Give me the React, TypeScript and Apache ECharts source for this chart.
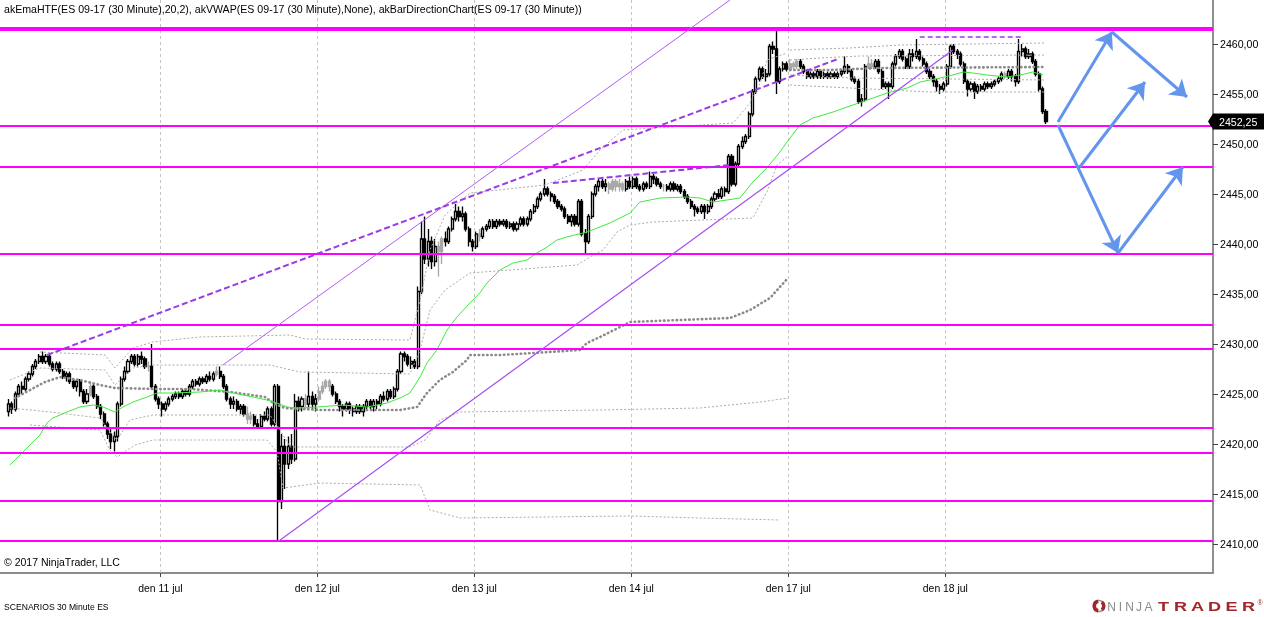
import React, { useEffect, useRef } from 'react';
import * as echarts from 'echarts';

const FONT = '"Liberation Sans", Arial, Helvetica, sans-serif';

const TITLE = 'akEmaHTF(ES 09-17 (30 Minute),20,2), akVWAP(ES 09-17 (30 Minute),None), akBarDirectionChart(ES 09-17 (30 Minute))';
const COPYRIGHT = '© 2017 NinjaTrader, LLC';
const FOOTER = 'SCENARIOS 30 Minute ES';

const DAY_BOUNDS = [44.5, 90.5, 136.5, 182.5, 228.5, 274.5];
const DAY_LABELS = ['den 11 jul', 'den 12 jul', 'den 13 jul', 'den 14 jul', 'den 17 jul', 'den 18 jul'];
const Y_TICKS = [2410, 2415, 2420, 2425, 2430, 2435, 2440, 2445, 2450, 2455, 2460];
const LEVELS = [2461.5, 2451.8, 2447.7, 2439.0, 2431.9, 2429.5, 2421.6, 2419.1, 2414.3, 2410.3];
const LAST_PRICE = 2452.25;
const X_MIN = -2.49;
const X_MAX = 352.92;
const Y_MIN = 2407.1;
const Y_MAX = 2464.4;

// [open, close, low, high]
const BARS_JUL10 = [
  [2423.25, 2424.0, 2422.75, 2424.5], [2424.0, 2423.5, 2423.0, 2424.25], [2423.5, 2425.0, 2423.25, 2425.25],
  [2425.0, 2425.75, 2424.75, 2426.0], [2425.75, 2425.5, 2425.0, 2426.25], [2425.5, 2426.5, 2425.25, 2426.75],
  [2426.5, 2427.0, 2426.25, 2427.25], [2427.0, 2427.75, 2426.75, 2428.0], [2427.75, 2428.25, 2427.5, 2428.5],
  [2428.25, 2428.75, 2428.0, 2429.0], [2428.75, 2428.25, 2428.0, 2429.25], [2428.25, 2428.75, 2428.0, 2429.0],
  [2428.75, 2428.0, 2427.75, 2429.0], [2428.0, 2427.5, 2427.25, 2428.25], [2427.5, 2428.0, 2427.25, 2428.25],
  [2428.0, 2427.25, 2427.0, 2428.25], [2427.25, 2426.75, 2426.5, 2427.5], [2426.75, 2427.0, 2426.25, 2427.25],
  [2427.0, 2426.25, 2426.0, 2427.25], [2426.25, 2425.75, 2425.5, 2426.5], [2425.75, 2426.25, 2425.25, 2426.5],
  [2426.25, 2425.25, 2424.75, 2426.5], [2425.25, 2424.25, 2424.0, 2425.5], [2424.25, 2425.0, 2424.0, 2425.5],
  [2425.0, 2425.75, 2424.75, 2426.25], [2425.75, 2424.75, 2424.5, 2426.0], [2424.75, 2423.75, 2423.5, 2425.0],
  [2423.75, 2423.0, 2422.5, 2424.0], [2423.0, 2422.0, 2421.75, 2423.25], [2422.0, 2421.0, 2420.5, 2422.25],
  [2421.0, 2420.25, 2419.5, 2421.5], [2420.25, 2420.75, 2419.25, 2421.25], [2420.75, 2424.0, 2420.25, 2424.25],
  [2424.0, 2426.5, 2423.75, 2426.75], [2426.5, 2427.25, 2426.25, 2427.75], [2427.25, 2428.25, 2427.0, 2428.5],
  [2428.25, 2428.75, 2428.0, 2429.0], [2428.75, 2428.0, 2427.75, 2429.0], [2428.0, 2428.75, 2427.75, 2429.0],
  [2428.75, 2428.5, 2428.0, 2429.25], [2428.5, 2427.75, 2427.5, 2428.75], [2427.75, 2427.75, 2427.25, 2428.25],
  [2427.75, 2425.75, 2425.5, 2430.0], [2425.75, 2424.5, 2424.25, 2426.0], [2424.5, 2424.0, 2423.5, 2424.75],
];
const BARS_JUL11 = [
  [2424.0, 2423.5, 2422.75, 2424.25], [2423.5, 2424.0, 2423.25, 2424.25], [2424.0, 2424.5, 2423.75, 2424.75],
  [2424.5, 2424.75, 2424.25, 2425.0], [2424.75, 2425.0, 2424.5, 2425.25], [2425.0, 2424.75, 2424.5, 2425.25],
  [2424.75, 2425.25, 2424.5, 2425.5], [2425.25, 2425.0, 2424.75, 2425.5], [2425.0, 2425.75, 2424.75, 2426.0],
  [2425.75, 2426.25, 2425.5, 2426.5], [2426.25, 2426.0, 2425.75, 2426.5], [2426.0, 2426.5, 2425.75, 2426.75],
  [2426.5, 2426.25, 2426.0, 2426.75], [2426.25, 2426.75, 2426.0, 2427.0], [2426.75, 2426.5, 2426.25, 2427.25],
  [2426.5, 2427.0, 2426.25, 2427.25], [2427.0, 2427.25, 2426.75, 2427.75], [2427.25, 2426.75, 2426.5, 2427.75],
  [2426.75, 2425.75, 2425.5, 2427.0], [2425.75, 2424.5, 2424.25, 2426.0], [2424.5, 2424.0, 2423.5, 2424.75],
  [2424.0, 2424.25, 2423.5, 2424.75], [2424.25, 2423.5, 2423.25, 2424.5], [2423.5, 2423.75, 2423.0, 2424.0],
  [2423.75, 2423.0, 2422.75, 2424.0], [2423.0, 2422.5, 2422.0, 2423.75], [2422.5, 2422.75, 2422.0, 2423.25],
  [2422.75, 2422.0, 2421.75, 2423.0], [2422.0, 2421.75, 2421.5, 2422.5], [2421.75, 2422.75, 2421.5, 2423.0],
  [2422.75, 2422.5, 2422.25, 2423.25], [2422.5, 2423.5, 2422.25, 2423.75], [2423.5, 2422.0, 2421.75, 2423.75],
  [2422.0, 2425.75, 2421.75, 2426.0], [2425.75, 2414.25, 2410.25, 2426.0], [2414.25, 2419.75, 2413.5, 2421.0],
  [2419.75, 2418.0, 2415.5, 2420.5], [2418.0, 2419.75, 2417.5, 2420.75], [2419.75, 2418.5, 2418.0, 2421.0],
  [2418.5, 2424.25, 2418.25, 2425.0], [2424.25, 2423.75, 2423.25, 2424.75], [2423.75, 2424.5, 2423.25, 2424.75],
  [2424.5, 2424.0, 2423.5, 2425.0], [2424.0, 2424.75, 2423.5, 2427.25], [2424.75, 2424.0, 2423.5, 2425.25],
  [2424.0, 2424.5, 2423.25, 2425.0],
];
const BARS_JUL12 = [
  [2424.5, 2425.25, 2424.25, 2425.75], [2425.25, 2425.75, 2425.0, 2426.25], [2425.75, 2426.25, 2425.5, 2426.5],
  [2426.25, 2425.75, 2425.25, 2426.5], [2425.75, 2425.0, 2424.75, 2426.0], [2425.0, 2424.25, 2424.0, 2425.25],
  [2424.25, 2423.75, 2423.25, 2424.5], [2423.75, 2423.5, 2422.75, 2424.0], [2423.5, 2424.0, 2423.25, 2424.25],
  [2424.0, 2423.5, 2423.0, 2424.25], [2423.5, 2423.25, 2422.75, 2423.75], [2423.25, 2423.75, 2423.0, 2424.0],
  [2423.75, 2423.25, 2423.0, 2424.0], [2423.25, 2423.75, 2422.75, 2424.0], [2423.75, 2424.25, 2423.5, 2424.5],
  [2424.25, 2423.75, 2423.5, 2424.5], [2423.75, 2424.25, 2423.25, 2424.5], [2424.25, 2424.0, 2423.5, 2424.5],
  [2424.0, 2424.75, 2423.75, 2425.0], [2424.75, 2424.5, 2424.25, 2425.25], [2424.5, 2425.25, 2424.25, 2425.5],
  [2425.25, 2424.75, 2424.5, 2425.5], [2424.75, 2425.5, 2424.5, 2425.75], [2425.5, 2427.25, 2425.25, 2427.5],
  [2427.25, 2429.0, 2427.0, 2429.25], [2429.0, 2428.75, 2428.25, 2429.25], [2428.75, 2428.0, 2427.75, 2429.0],
  [2428.0, 2428.25, 2427.5, 2428.75], [2428.25, 2427.75, 2427.5, 2428.5], [2427.75, 2435.25, 2427.5, 2435.75],
  [2435.25, 2440.5, 2435.0, 2442.25], [2440.5, 2438.5, 2438.0, 2442.75], [2438.5, 2440.25, 2437.75, 2441.5],
  [2440.25, 2438.25, 2437.5, 2440.75], [2438.25, 2439.75, 2437.75, 2440.5], [2439.75, 2439.25, 2436.75, 2440.25],
  [2439.25, 2440.5, 2438.0, 2440.75], [2440.5, 2440.25, 2439.75, 2441.25], [2440.25, 2441.5, 2440.0, 2441.75],
  [2441.5, 2442.5, 2441.25, 2442.75], [2442.5, 2443.25, 2442.25, 2444.0], [2443.25, 2442.75, 2442.25, 2443.75],
  [2442.75, 2443.0, 2442.25, 2443.75], [2443.0, 2441.5, 2441.25, 2443.25], [2441.5, 2440.25, 2439.75, 2441.75],
  [2440.25, 2439.75, 2439.25, 2440.5],
];
const BARS_JUL13 = [
  [2439.75, 2441.0, 2439.5, 2441.25], [2441.0, 2440.75, 2440.25, 2441.5], [2440.75, 2441.5, 2440.5, 2441.75],
  [2441.5, 2441.75, 2441.25, 2442.0], [2441.75, 2442.25, 2441.5, 2442.5], [2442.25, 2441.75, 2441.5, 2442.5],
  [2441.75, 2442.25, 2441.5, 2442.5], [2442.25, 2442.0, 2441.75, 2442.5], [2442.0, 2442.25, 2441.75, 2442.5],
  [2442.25, 2441.75, 2441.5, 2442.5], [2441.75, 2442.0, 2441.5, 2442.25], [2442.0, 2441.5, 2441.25, 2442.25],
  [2441.5, 2442.0, 2441.25, 2442.25], [2442.0, 2442.5, 2441.75, 2442.75], [2442.5, 2442.0, 2441.75, 2442.75],
  [2442.0, 2442.5, 2441.75, 2442.75], [2442.5, 2443.25, 2442.25, 2443.5], [2443.25, 2443.75, 2443.0, 2444.0],
  [2443.75, 2444.5, 2443.5, 2444.75], [2444.5, 2445.0, 2444.25, 2445.25], [2445.0, 2445.5, 2444.75, 2446.5],
  [2445.5, 2445.0, 2444.75, 2445.75], [2445.0, 2444.75, 2444.25, 2445.25], [2444.75, 2444.25, 2444.0, 2445.0],
  [2444.25, 2443.75, 2443.5, 2444.5], [2443.75, 2443.5, 2443.25, 2444.0], [2443.5, 2442.75, 2442.5, 2443.75],
  [2442.75, 2442.25, 2442.0, 2443.0], [2442.25, 2442.75, 2441.75, 2443.0], [2442.75, 2442.0, 2441.75, 2443.0],
  [2442.0, 2444.25, 2441.75, 2444.5], [2444.25, 2441.0, 2440.75, 2444.5], [2441.0, 2440.25, 2439.0, 2441.5],
  [2440.25, 2442.75, 2440.0, 2443.0], [2442.75, 2445.0, 2442.5, 2445.25], [2445.0, 2445.75, 2444.75, 2446.0],
  [2445.75, 2446.25, 2445.25, 2446.5], [2446.25, 2445.75, 2445.5, 2446.5], [2445.75, 2446.0, 2445.25, 2446.5],
  [2446.0, 2445.5, 2445.0, 2446.25], [2445.5, 2446.25, 2445.25, 2446.5], [2446.25, 2445.75, 2445.25, 2446.5],
  [2445.75, 2446.0, 2445.25, 2446.5], [2446.0, 2445.5, 2445.25, 2446.25], [2445.5, 2446.25, 2445.25, 2446.5],
  [2446.25, 2445.75, 2445.5, 2446.75],
];
const BARS_JUL14 = [
  [2445.75, 2446.5, 2445.5, 2446.75], [2446.5, 2445.75, 2445.5, 2446.75], [2445.75, 2445.5, 2445.25, 2446.0],
  [2445.5, 2446.0, 2445.25, 2446.25], [2446.0, 2445.75, 2445.5, 2446.25], [2445.75, 2446.75, 2445.5, 2447.25],
  [2446.75, 2446.5, 2446.0, 2447.0], [2446.5, 2446.0, 2445.75, 2446.75], [2446.0, 2445.75, 2445.5, 2446.25],
  [2445.75, 2445.75, 2445.25, 2446.0], [2445.75, 2445.5, 2445.25, 2446.0], [2445.5, 2446.0, 2445.25, 2446.25],
  [2446.0, 2445.5, 2445.25, 2446.25], [2445.5, 2445.75, 2445.25, 2446.0], [2445.75, 2445.25, 2445.0, 2446.0],
  [2445.25, 2444.75, 2444.5, 2445.5], [2444.75, 2444.25, 2444.0, 2445.0], [2444.25, 2443.75, 2443.5, 2444.5],
  [2443.75, 2443.5, 2442.75, 2444.0], [2443.5, 2443.25, 2443.0, 2443.75], [2443.25, 2443.75, 2443.0, 2444.0],
  [2443.75, 2443.25, 2442.5, 2444.0], [2443.25, 2443.75, 2443.0, 2444.0], [2443.75, 2444.5, 2443.5, 2444.75],
  [2444.5, 2445.0, 2444.25, 2445.25], [2445.0, 2444.75, 2444.5, 2445.5], [2444.75, 2445.5, 2444.5, 2445.75],
  [2445.5, 2445.25, 2444.75, 2445.75], [2445.25, 2448.75, 2445.0, 2449.0], [2448.75, 2446.0, 2445.75, 2449.0],
  [2446.0, 2448.0, 2445.75, 2448.25], [2448.0, 2449.75, 2447.75, 2450.0], [2449.75, 2450.25, 2449.5, 2450.75],
  [2450.25, 2450.75, 2450.0, 2451.0], [2450.75, 2453.0, 2450.5, 2453.25], [2453.0, 2455.25, 2452.75, 2455.5],
  [2455.25, 2456.5, 2455.0, 2456.75], [2456.5, 2457.5, 2456.25, 2457.75], [2457.5, 2456.75, 2456.5, 2457.75],
  [2456.75, 2457.0, 2456.25, 2457.5], [2457.0, 2459.75, 2456.75, 2460.0], [2459.75, 2459.5, 2459.0, 2460.25],
  [2459.5, 2456.25, 2455.0, 2461.5], [2456.25, 2457.5, 2456.0, 2457.75], [2457.5, 2458.0, 2457.25, 2458.25],
  [2458.0, 2457.5, 2457.25, 2458.25],
];
const BARS_JUL17 = [
  [2457.5, 2458.0, 2457.25, 2458.5], [2458.0, 2457.75, 2457.5, 2458.25], [2457.75, 2458.25, 2457.5, 2458.5],
  [2458.25, 2457.75, 2457.5, 2458.5], [2457.75, 2457.25, 2457.0, 2458.0], [2457.25, 2456.75, 2456.5, 2457.5],
  [2456.75, 2457.0, 2456.5, 2457.25], [2457.0, 2456.75, 2456.5, 2457.25], [2456.75, 2457.25, 2456.5, 2457.5],
  [2457.25, 2456.75, 2456.5, 2457.5], [2456.75, 2457.0, 2456.5, 2457.25], [2457.0, 2456.75, 2456.5, 2457.25],
  [2456.75, 2457.0, 2456.5, 2457.25], [2457.0, 2456.75, 2456.5, 2457.25], [2456.75, 2457.0, 2456.5, 2457.25],
  [2457.0, 2457.25, 2456.75, 2457.5], [2457.25, 2457.75, 2457.0, 2458.75], [2457.75, 2457.25, 2457.0, 2458.0],
  [2457.25, 2456.5, 2456.25, 2457.5], [2456.5, 2456.25, 2456.0, 2456.75], [2456.25, 2454.25, 2454.0, 2456.5],
  [2454.25, 2454.5, 2453.75, 2455.0], [2454.5, 2457.75, 2454.25, 2458.0], [2457.75, 2458.0, 2457.5, 2458.75],
  [2458.0, 2457.75, 2457.5, 2458.5], [2457.75, 2458.25, 2457.5, 2458.5], [2458.25, 2457.25, 2457.0, 2458.5],
  [2457.25, 2455.75, 2455.5, 2457.5], [2455.75, 2456.0, 2455.5, 2456.25], [2456.0, 2455.75, 2454.5, 2456.25],
  [2455.75, 2458.0, 2455.5, 2458.25], [2458.0, 2458.75, 2457.75, 2459.0], [2458.75, 2459.25, 2458.5, 2459.5],
  [2459.25, 2458.5, 2458.25, 2459.5], [2458.5, 2457.75, 2457.5, 2458.75], [2457.75, 2459.0, 2457.5, 2459.5],
  [2459.0, 2458.75, 2458.25, 2459.5], [2458.75, 2459.25, 2458.5, 2460.5], [2459.25, 2458.5, 2458.25, 2459.5],
  [2458.5, 2458.0, 2457.75, 2458.75], [2458.0, 2457.25, 2457.0, 2458.25], [2457.25, 2456.75, 2456.5, 2457.5],
  [2456.75, 2456.25, 2455.75, 2457.0], [2456.25, 2455.75, 2455.25, 2456.5], [2455.75, 2455.5, 2455.0, 2456.0],
  [2455.5, 2456.0, 2455.25, 2456.25],
];
const BARS_JUL18 = [
  [2456.0, 2457.75, 2455.75, 2458.0], [2457.75, 2459.75, 2457.5, 2460.0], [2459.75, 2459.25, 2459.0, 2460.0],
  [2459.25, 2459.0, 2458.5, 2459.5], [2459.0, 2458.0, 2457.75, 2459.25], [2458.0, 2456.25, 2456.0, 2458.25],
  [2456.25, 2455.5, 2454.75, 2456.5], [2455.5, 2456.0, 2455.25, 2456.25], [2456.0, 2455.25, 2454.5, 2456.25],
  [2455.25, 2455.75, 2455.0, 2456.0], [2455.75, 2455.5, 2455.25, 2456.0], [2455.5, 2456.0, 2455.25, 2456.25],
  [2456.0, 2455.75, 2455.5, 2456.25], [2455.75, 2456.0, 2455.5, 2456.25], [2456.0, 2456.25, 2455.75, 2456.5],
  [2456.25, 2456.5, 2456.0, 2456.75], [2456.5, 2457.0, 2456.25, 2457.25], [2457.0, 2456.75, 2456.5, 2457.25],
  [2456.75, 2457.25, 2456.5, 2457.5], [2457.25, 2456.75, 2456.25, 2457.5], [2456.75, 2456.25, 2455.75, 2457.0],
  [2456.25, 2459.25, 2456.0, 2460.5], [2459.25, 2459.5, 2458.75, 2460.0], [2459.5, 2458.75, 2458.5, 2459.75],
  [2458.75, 2459.0, 2458.5, 2459.5], [2459.0, 2458.25, 2458.0, 2459.25], [2458.25, 2457.0, 2456.75, 2458.5],
  [2457.0, 2455.5, 2455.25, 2457.25], [2455.5, 2453.25, 2453.0, 2455.75], [2453.25, 2452.25, 2452.0, 2453.5],
];
const GRAY_BARS = [24, 41, 61, 70, 71, 87, 91, 92, 93, 94, 126, 127, 138, 176, 177, 178, 179, 180, 192, 229, 230, 231, 252, 253, 292];

// indicator points [bar index, price]
const EMA = [
  [0.4, 2417.9], [3.4, 2418.9], [6.3, 2419.9], [9.2, 2420.9], [11.3, 2422.1], [13, 2422.6], [17.1, 2423.2],
  [20.9, 2423.7], [24.8, 2423.9], [27.7, 2423.7], [31.2, 2423.2], [33.5, 2423.7], [36.5, 2424.2], [40.6, 2424.7],
  [43.5, 2425.1], [48.2, 2425.1], [56.1, 2425.2], [62, 2425.4], [65.8, 2425.1], [71.6, 2424.7], [75.7, 2424.4],
  [78.7, 2424.1], [81.6, 2423.7], [84.5, 2423.6], [90.4, 2423.7], [98, 2423.9], [105, 2423.7], [110.9, 2424.1],
  [114.7, 2424.6], [117.6, 2425.1], [120.6, 2426.7], [122.6, 2428.1], [125.5, 2429.4], [128.5, 2431.4],
  [131.4, 2432.7], [135.2, 2434.1], [138.1, 2435.1], [140.2, 2436.1], [144, 2437.4], [147.8, 2438.1],
  [151.9, 2438.4], [154.8, 2439.1], [157.8, 2439.7], [160.7, 2440.4], [163.6, 2440.7], [169.5, 2441.2],
  [176.2, 2442.1], [182.1, 2443.1], [185, 2444.2], [190.9, 2444.6], [198.8, 2444.7], [202.6, 2444.6],
  [206.4, 2444.2], [210.5, 2444.4], [214.3, 2444.6], [218.1, 2446.2], [222.2, 2447.6], [226, 2449.2],
  [228.1, 2450.2], [231.9, 2451.9], [235.7, 2452.6], [241.6, 2453.2], [247.4, 2453.9], [253.3, 2454.6],
  [257.4, 2455.1], [263.3, 2455.6], [267.1, 2456.2], [272.9, 2456.6], [276.7, 2456.9], [279.7, 2457.2],
  [282.6, 2457.1], [286.7, 2456.9], [292.5, 2456.7], [296.4, 2456.9], [300.1, 2457.2], [303.1, 2456.9],
];
const VWAP_WEEK1 = [
  [1.9, 2424.6], [6.3, 2425.4], [10.7, 2426.2], [15.1, 2426.7], [20.9, 2426.4], [26.8, 2425.9], [31.2, 2425.6],
  [42.9, 2425.5], [53.2, 2425.5], [64.9, 2425.2], [75.1, 2424.7], [78.1, 2424.0], [81, 2423.6], [91.3, 2423.4],
  [114.7, 2423.4], [119.7, 2423.7], [122.6, 2425.1], [126.4, 2426.4], [130.2, 2427.2], [134.3, 2428.4],
  [135.2, 2428.9], [144, 2428.9], [153.7, 2429.1], [167.4, 2429.4], [169.5, 2430.1], [173.3, 2430.7],
  [179.2, 2431.7], [182.1, 2432.2], [196.7, 2432.4], [211.4, 2432.6], [217.3, 2433.4], [223.1, 2434.6],
  [228.4, 2436.6],
];
const VWAP_WEEK2 = [[229, 2457.4], [240.7, 2457.4], [255.3, 2457.6], [303.7, 2457.7]];
const UPPER2_WEEK1 = [
  [9.2, 2429.2], [28.3, 2428.9], [31.2, 2427.6], [36.5, 2429.6], [42.3, 2430.2], [56.1, 2430.7], [82.5, 2430.9],
  [86.9, 2430.5], [117.6, 2430.4], [120.6, 2434.4], [123.5, 2439.4], [127.9, 2442.9], [135.2, 2445.1],
  [157.2, 2445.9], [168.3, 2447.4], [173.3, 2449.4], [180, 2451.4], [212.3, 2452.1], [217.3, 2454.1],
  [220.3, 2456.1], [222.2, 2458.4], [228.1, 2459.1],
];
const UPPER1_WEEK1 = [
  [0.4, 2426.4], [9.2, 2427.6], [28.3, 2427.4], [31.2, 2425.9], [36.5, 2427.6], [42.3, 2427.9], [76.6, 2427.9],
  [85.4, 2427.2], [117.6, 2427.0], [120.6, 2429.4], [123.5, 2433.4], [127.9, 2435.4], [135.2, 2437.1],
  [166.6, 2437.9], [170.4, 2438.7], [174.2, 2439.4], [178.3, 2441.2], [182.1, 2441.9], [188.8, 2442.2],
  [218.1, 2442.6], [222.2, 2445.2], [225.2, 2447.9], [228.1, 2448.7],
];
const LOWER1_WEEK1 = [
  [0.4, 2423.6], [12.2, 2423.2], [26.8, 2422.6], [29.7, 2421.2], [31.8, 2420.4], [35.6, 2422.4], [42.3, 2422.9],
  [76.6, 2422.9], [79.6, 2421.4], [82.5, 2419.7], [117.6, 2419.7], [122.1, 2420.4], [126.4, 2422.4],
  [132.3, 2423.2], [173.3, 2423.4], [202.6, 2423.6], [220.3, 2424.2], [228.4, 2424.6],
];
const LOWER2_WEEK1 = [
  [6.3, 2421.9], [26.8, 2421.4], [29.7, 2419.4], [31.8, 2418.7], [37.1, 2419.9], [42.3, 2420.4], [75.7, 2420.4],
  [78.7, 2419.2], [80.4, 2415.6], [91.3, 2416.1], [120.6, 2415.9], [123.5, 2413.4], [132.3, 2412.6],
  [182.1, 2412.8], [202.6, 2412.6], [226, 2412.4],
];
const UPPER2_WEEK2 = [[229, 2459.4], [246.6, 2459.6], [261.2, 2459.9], [303.7, 2460.1]];
const UPPER1_WEEK2 = [[229, 2458.4], [237.8, 2458.6], [249.5, 2458.8], [303.7, 2458.9]];
const LOWER1_WEEK2 = [[229, 2456.9], [246.6, 2456.6], [303.7, 2456.4]];
const LOWER2_WEEK2 = [[229, 2455.9], [246.6, 2455.6], [269.9, 2455.2], [303.7, 2455.2]];

// drawn trend lines [bar index, price]
const CHANNEL_LOW = [[79, 2410.25], [276.7, 2459.4]];
const CHANNEL_HIGH = [[62.8, 2427.9], [211.4, 2464.4]];
const DASH_LONG = [[11.3, 2428.9], [243, 2458.5]];
const DASH_MID = [[159.5, 2446.1], [211.4, 2447.9]];
const DASH_TOP = [[267, 2460.7], [297, 2460.7]];

// scenario arrows [start, end]
const ARROWS = [
  [[307.5, 2452.2], [323.3, 2461.2]],
  [[323.3, 2461.2], [345.3, 2454.7]],
  [[313.9, 2447.7], [333.0, 2456.2]],
  [[307.5, 2451.9], [325.1, 2439.1]],
  [[325.1, 2439.1], [344.1, 2447.7]],
];

const ALL_BARS = [...BARS_JUL10, ...BARS_JUL11, ...BARS_JUL12, ...BARS_JUL13, ...BARS_JUL14, ...BARS_JUL17, ...BARS_JUL18];

const GRAY = '#a8a8a8';
const PURPLE = '#9a3be6';
const fmtPrice = (v: number) => v.toFixed(2).replace('.', ',');

export default function App() {
  const ref = useRef<HTMLDivElement>(null);

  useEffect(() => {
    document.body.style.margin = '0';
    const chart = echarts.init(ref.current as HTMLDivElement, null, { renderer: 'svg' });

    const candleData = ALL_BARS.map((b, i) => {
      const item: any = { value: [i, b[0], b[1], b[2], b[3]] };
      if (GRAY_BARS.includes(i)) {
        item.itemStyle = { color: GRAY, color0: GRAY, borderColor: GRAY, borderColor0: GRAY, borderColorDoji: GRAY };
      }
      return item;
    });

    const bandLine = (data: number[][], extra: any = {}) => ({
      type: 'line', data, symbol: 'none', showSymbol: false, silent: true, z: 4,
      lineStyle: { color: '#ababab', width: 1, type: [2, 2] }, ...extra,
    });
    const vwapLine = (data: number[][]) => ({
      type: 'line', data, symbol: 'none', showSymbol: false, silent: true, z: 4,
      lineStyle: { color: '#8a8a8a', width: 2.6, type: [0.4, 3.8], cap: 'round' },
    });
    const trend = (data: number[][], style: any) => ({
      type: 'line', data, symbol: 'none', showSymbol: false, silent: true, z: 7, lineStyle: style,
    });

    const option: any = {
      animation: false,
      textStyle: { fontFamily: FONT },
      grid: { left: 0, right: 51, top: 0, bottom: 44, containLabel: false, outerBoundsMode: 'none' },
      xAxis: {
        type: 'value', min: X_MIN, max: X_MAX,
        axisLine: { show: true, onZero: false, lineStyle: { color: '#8c8c8c', width: 2 } },
        axisTick: { show: true, customValues: DAY_BOUNDS, length: 4, lineStyle: { color: '#444', width: 1 } },
        axisLabel: {
          show: true, customValues: DAY_BOUNDS, color: '#000', fontSize: 10.4, fontFamily: FONT, margin: 10,
          formatter: (v: number) => {
            const k = DAY_BOUNDS.findIndex((b) => Math.abs(b - v) < 0.01);
            return k >= 0 ? DAY_LABELS[k] : '';
          },
        },
        splitLine: { show: false },
      },
      yAxis: {
        type: 'value', position: 'right', min: Y_MIN, max: Y_MAX, scale: true,
        axisLine: { show: true, onZero: false, lineStyle: { color: '#6a6a6a', width: 1.5 } },
        axisTick: { show: true, customValues: Y_TICKS, length: 5, lineStyle: { color: '#444', width: 1 } },
        axisLabel: {
          show: true, customValues: Y_TICKS, color: '#000', fontSize: 10.6, fontFamily: FONT, margin: 7,
          formatter: (v: number) => fmtPrice(v),
        },
        splitLine: { show: false },
      },
      series: [
        bandLine(UPPER2_WEEK1, {
          markLine: {
            silent: true, symbol: ['none', 'none'], z: 1, label: { show: false },
            lineStyle: { color: '#c4c4c4', width: 1, type: [3, 3] },
            data: DAY_BOUNDS.map((v) => ({ xAxis: v })),
          },
        }),
        bandLine(UPPER1_WEEK1),
        bandLine(LOWER1_WEEK1),
        bandLine(LOWER2_WEEK1),
        bandLine(UPPER2_WEEK2),
        bandLine(UPPER1_WEEK2),
        bandLine(LOWER1_WEEK2),
        bandLine(LOWER2_WEEK2),
        vwapLine(VWAP_WEEK1),
        vwapLine(VWAP_WEEK2),
        {
          type: 'line', data: EMA, symbol: 'none', showSymbol: false, silent: true, z: 5,
          lineStyle: { color: '#3ee83e', width: 1 },
        },
        {
          type: 'candlestick', data: candleData, barWidth: 2.6, z: 3, silent: true,
          itemStyle: { color: '#ffffff', color0: '#000000', borderColor: '#000000', borderColor0: '#000000', borderColorDoji: '#000000', borderWidth: 1.35 },
          markLine: {
            silent: true, symbol: ['none', 'none'], z: 6, label: { show: false },
            lineStyle: { color: '#ff00ff', width: 2, type: 'solid' },
            data: LEVELS.map((v, k) => ({ yAxis: v, lineStyle: { color: '#ff00ff', width: k === 0 ? 4 : 2, type: 'solid' } })),
          },
        },
        trend(CHANNEL_LOW, { color: '#a64cf0', width: 1.2 }),
        trend(CHANNEL_HIGH, { color: '#b25cf0', width: 1 }),
        trend(DASH_LONG, { color: PURPLE, width: 2, type: [6, 3] }),
        trend(DASH_MID, { color: PURPLE, width: 2, type: [6, 3] }),
        trend(DASH_TOP, { color: PURPLE, width: 1.5, type: [5, 3] }),
        {
          type: 'lines', coordinateSystem: 'cartesian2d', z: 8, silent: true,
          symbol: ['none', 'arrow'], symbolSize: 16,
          lineStyle: { color: '#6495ed', width: 3, opacity: 1, curveness: 0 },
          data: ARROWS.map((a) => ({ coords: a })),
        },
      ],
    };

    chart.setOption(option);

    const yTag = chart.convertToPixel({ yAxisIndex: 0 }, LAST_PRICE) as number;
    const axisX = chart.convertToPixel({ xAxisIndex: 0 }, X_MAX) as number;

    const ninja = ['N', 'I', 'N', 'J', 'A'];
    const ninjaX = [1111.5, 1120.5, 1129.5, 1139, 1148.5];
    const trader = ['T', 'R', 'A', 'D', 'E', 'R'];
    const traderX = [1163.5, 1180.5, 1197.5, 1214.5, 1231.5, 1248.5];

    const graphic: any[] = [
      { type: 'text', x: 4, y: 9, z: 100, style: { text: TITLE, fill: '#000', fontSize: 10.6, fontFamily: FONT, verticalAlign: 'middle' } },
      { type: 'text', x: 4, y: 562, z: 100, style: { text: COPYRIGHT, fill: '#000', fontSize: 10.5, fontFamily: FONT, verticalAlign: 'middle' } },
      { type: 'text', x: 4, y: 607, z: 100, style: { text: FOOTER, fill: '#000', fontSize: 8.6, fontFamily: FONT, verticalAlign: 'middle' } },
      {
        type: 'polygon', z: 100,
        shape: { points: [[axisX - 5, yTag], [axisX, yTag - 8], [1264, yTag - 8], [1264, yTag + 8], [axisX, yTag + 8]] },
        style: { fill: '#000' },
      },
      { type: 'text', x: axisX + 6, y: yTag, z: 101, style: { text: fmtPrice(LAST_PRICE), fill: '#fff', fontSize: 10.6, fontFamily: FONT, verticalAlign: 'middle' } },
      { type: 'circle', z: 100, shape: { cx: 1099, cy: 606, r: 5.5 }, style: { fill: 'none', stroke: '#9a9a9a', lineWidth: 1.6 } },
      { type: 'sector', z: 101, shape: { cx: 1099, cy: 606, r: 6.5, r0: 3, startAngle: Math.PI * 0.55, endAngle: Math.PI * 1.45 }, style: { fill: '#a3262a' } },
      { type: 'sector', z: 101, shape: { cx: 1099, cy: 606, r: 6.5, r0: 3, startAngle: -Math.PI * 0.3, endAngle: Math.PI * 0.3 }, style: { fill: '#a3262a' } },
    ];
    ninja.forEach((ch, k) => {
      graphic.push({ type: 'text', x: ninjaX[k], y: 607, z: 100, style: { text: ch, fill: '#8c8c8c', fontSize: 12, fontFamily: FONT, align: 'center', verticalAlign: 'middle' } });
    });
    trader.forEach((ch, k) => {
      graphic.push({ type: 'text', x: traderX[k], y: 607, scaleX: 1.45, z: 100, style: { text: ch, fill: '#a3262a', fontSize: 12.5, fontWeight: 'bold', fontFamily: FONT, align: 'center', verticalAlign: 'middle' } });
    });
    graphic.push({ type: 'text', x: 1260, y: 602, z: 100, style: { text: '®', fill: '#a3262a', fontSize: 7, fontFamily: FONT, align: 'center', verticalAlign: 'middle' } });

    chart.setOption({ graphic });

    return () => chart.dispose();
  }, []);

  return <div ref={ref} style={{ position: 'fixed', left: 0, top: 0, width: 1264, height: 617 }} />;
}
